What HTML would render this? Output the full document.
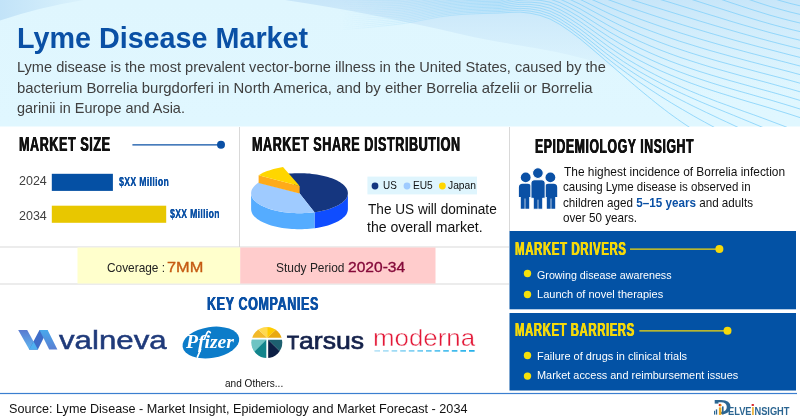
<!DOCTYPE html>
<html lang="en"><head><meta charset="utf-8"><title>Lyme Disease Market</title>
<style>
html,body{margin:0;padding:0}
body{width:800px;height:420px;position:relative;overflow:hidden;background:#fff;font-family:"Liberation Sans",sans-serif}
#bg,#fg{position:absolute;left:0;top:0}
.t{position:absolute;white-space:nowrap;line-height:1;transform-origin:0 0;margin:0;padding:0}
.t b{font-weight:700}
.h{text-shadow:0.45px 0 0 currentColor,-0.45px 0 0 currentColor;letter-spacing:0.9px}
.h2{text-shadow:0.2px 0 0 currentColor;letter-spacing:0.5px}
</style></head><body>

<svg id="bg" width="800" height="420" viewBox="0 0 800 420">
<defs>
<linearGradient id="hg" x1="0" y1="0" x2="0" y2="1"><stop offset="0" stop-color="#dff6fe"/><stop offset="1" stop-color="#e0f7ff"/></linearGradient>
<linearGradient id="bv" x1="0" y1="0" x2="0" y2="100" gradientUnits="userSpaceOnUse"><stop offset="0" stop-color="#c8e6f9" stop-opacity="1"/><stop offset="0.45" stop-color="#cfeafa" stop-opacity="0.6"/><stop offset="1" stop-color="#d8f0fc" stop-opacity="0"/></linearGradient>
<linearGradient id="bh" x1="225" y1="0" x2="430" y2="0" gradientUnits="userSpaceOnUse"><stop offset="0" stop-color="#fff" stop-opacity="0"/><stop offset="1" stop-color="#fff" stop-opacity="1"/></linearGradient>
<mask id="bm"><rect x="0" y="0" width="800" height="126" fill="url(#bh)"/></mask>
<linearGradient id="cg" x1="0" y1="0" x2="84" y2="0" gradientUnits="userSpaceOnUse"><stop offset="0" stop-color="#c2e3f8"/><stop offset="1" stop-color="#daf2fc"/></linearGradient>
<linearGradient id="wf" x1="340" y1="0" x2="590" y2="0" gradientUnits="userSpaceOnUse"><stop offset="0" stop-color="#fff" stop-opacity="0"/><stop offset="0.5" stop-color="#fff" stop-opacity="0.5"/><stop offset="1" stop-color="#fff" stop-opacity="1"/></linearGradient>
<mask id="wm"><rect x="0" y="0" width="800" height="127" fill="url(#wf)"/></mask>
<clipPath id="hc"><rect x="0" y="0" width="800" height="127"/></clipPath>
<linearGradient id="mg" x1="374" y1="0" x2="475" y2="0" gradientUnits="userSpaceOnUse"><stop offset="0" stop-color="#bfe6f8"/><stop offset="1" stop-color="#22b0ea"/></linearGradient>
<linearGradient id="v1" x1="0" y1="0" x2="0" y2="1"><stop offset="0" stop-color="#5a7bd0"/><stop offset="1" stop-color="#5fb6f0"/></linearGradient>
<linearGradient id="v3" x1="0" y1="0" x2="0" y2="1"><stop offset="0" stop-color="#48a8ec"/><stop offset="1" stop-color="#5a7fd2"/></linearGradient>
</defs>
<rect x="0" y="0" width="800" height="126.5" fill="url(#hg)"/>
<path d="M285,0 C340,8 400,20 460,34 S560,48 620,70 L700,126.5 L800,126.5 L800,0 Z" fill="url(#bv)"/>
<path d="M0,0 L84,0 Q40,7 0,20.5 Z" fill="url(#cg)"/>
<g clip-path="url(#hc)"><g mask="url(#wm)" fill="none" stroke="#82d1fa" stroke-width="0.85" stroke-opacity="0.95">
<path d="M330.0,31.0 L340.0,30.0 L350.0,29.1 L360.0,28.2 L370.0,27.3 L380.0,26.3 L390.0,25.2 L400.0,24.0 L410.0,22.5 L420.0,20.6 L430.0,18.7 L440.0,16.9 L450.0,15.5 L460.0,14.6 L470.0,14.0 L480.0,13.6 L490.0,13.3 L500.0,13.0 L510.0,12.4 L520.0,12.1 L530.0,13.2 L540.0,15.4 L550.0,19.0 L560.0,24.5 L570.0,31.3 L580.0,38.8 L590.0,47.2 L600.0,55.7 L604.3,59.4 L608.6,63.1 L612.9,66.8 L617.2,70.5 L621.5,74.2 L625.8,77.8 L630.1,81.5 L634.4,85.2 L638.7,88.8 L643.0,92.4 L647.3,95.9 L651.6,99.4 L655.9,102.9 L660.2,106.3 L664.5,109.6 L668.8,112.9 L673.1,116.0 L677.4,119.1 L681.7,122.1 L686.0,125.0 L746.0,164.6"/>
<path d="M330.0,28.8 L340.0,27.9 L350.0,27.1 L360.0,26.2 L370.0,25.4 L380.0,24.5 L390.0,23.4 L400.0,22.3 L410.0,20.8 L420.0,19.0 L430.0,17.1 L440.0,15.3 L450.0,14.0 L460.0,13.1 L470.0,12.5 L480.0,12.1 L490.0,11.8 L500.0,11.5 L510.0,10.7 L520.0,10.2 L530.0,11.1 L540.0,13.0 L550.0,16.4 L560.0,21.8 L570.0,28.4 L580.0,35.8 L590.0,43.9 L600.0,52.3 L605.5,56.8 L611.0,61.2 L616.5,65.5 L622.0,69.6 L627.5,73.7 L633.0,77.7 L638.5,81.6 L644.0,85.3 L649.5,89.0 L655.0,92.6 L660.5,96.2 L666.0,99.6 L671.5,103.0 L677.0,106.3 L682.5,109.5 L688.0,112.7 L693.5,115.9 L699.0,119.0 L704.5,122.0 L710.0,125.0 L770.0,157.5"/>
<path d="M330.0,26.6 L340.0,25.8 L350.0,25.0 L360.0,24.2 L370.0,23.5 L380.0,22.6 L390.0,21.7 L400.0,20.6 L410.0,19.1 L420.0,17.4 L430.0,15.5 L440.0,13.8 L450.0,12.5 L460.0,11.6 L470.0,11.0 L480.0,10.6 L490.0,10.3 L500.0,10.0 L510.0,9.0 L520.0,8.3 L530.0,8.9 L540.0,10.6 L550.0,13.8 L560.0,18.9 L570.0,25.4 L580.0,32.5 L590.0,40.5 L600.0,48.6 L606.6,53.8 L613.3,58.9 L620.0,63.7 L626.6,68.3 L633.2,72.7 L639.9,77.0 L646.5,81.0 L653.2,85.0 L659.9,88.8 L666.5,92.4 L673.1,96.0 L679.8,99.4 L686.5,102.8 L693.1,106.1 L699.8,109.3 L706.4,112.5 L713.0,115.6 L719.7,118.8 L726.4,121.9 L733.0,125.0 L793.0,153.3"/>
<path d="M330.0,24.4 L340.0,23.6 L350.0,22.9 L360.0,22.3 L370.0,21.5 L380.0,20.8 L390.0,19.9 L400.0,18.9 L410.0,17.5 L420.0,15.7 L430.0,13.9 L440.0,12.3 L450.0,11.0 L460.0,10.1 L470.0,9.5 L480.0,9.1 L490.0,8.8 L500.0,8.5 L510.0,7.2 L520.0,6.3 L530.0,6.7 L540.0,8.1 L550.0,11.1 L560.0,15.9 L570.0,22.2 L580.0,29.0 L590.0,36.7 L600.0,44.6 L607.9,50.6 L615.7,56.2 L623.5,61.6 L631.4,66.6 L639.2,71.4 L647.1,75.9 L655.0,80.2 L662.8,84.3 L670.6,88.2 L678.5,91.9 L686.4,95.5 L694.2,99.0 L702.0,102.4 L709.9,105.7 L717.8,108.9 L725.6,112.1 L733.5,115.3 L741.3,118.5 L749.1,121.7 L757.0,125.0 L817.0,150.2"/>
<path d="M330.0,22.2 L340.0,21.5 L350.0,20.9 L360.0,20.3 L370.0,19.6 L380.0,18.9 L390.0,18.1 L400.0,17.2 L410.0,15.8 L420.0,14.1 L430.0,12.3 L440.0,10.7 L450.0,9.5 L460.0,8.6 L470.0,8.0 L480.0,7.6 L490.0,7.3 L500.0,7.0 L510.0,5.5 L520.0,4.3 L530.0,4.4 L540.0,5.6 L550.0,8.2 L560.0,12.8 L570.0,18.8 L580.0,25.4 L590.0,32.8 L600.0,40.3 L609.0,47.0 L618.1,53.1 L627.1,59.0 L636.2,64.4 L645.2,69.5 L654.3,74.3 L663.4,78.9 L672.4,83.1 L681.5,87.2 L690.5,91.1 L699.5,94.8 L708.6,98.3 L717.6,101.8 L726.7,105.1 L735.8,108.4 L744.8,111.7 L753.9,114.9 L762.9,118.2 L772.0,121.6 L781.0,125.0 L841.0,148.0"/>
<path d="M330.0,20.0 L340.0,19.4 L350.0,18.8 L360.0,18.3 L370.0,17.7 L380.0,17.1 L390.0,16.4 L400.0,15.5 L410.0,14.2 L420.0,12.5 L430.0,10.8 L440.0,9.2 L450.0,8.0 L460.0,7.1 L470.0,6.5 L480.0,6.1 L490.0,5.8 L500.0,5.5 L510.0,3.7 L520.0,2.3 L530.0,2.1 L540.0,3.0 L550.0,5.2 L560.0,9.6 L570.0,15.2 L580.0,21.5 L590.0,28.6 L600.0,35.8 L610.0,42.8 L620.0,49.2 L630.0,55.1 L640.0,60.6 L650.0,65.7 L660.0,70.5 L670.0,74.8 L680.0,78.9 L690.0,82.8 L700.0,86.4 L710.0,89.8 L720.0,93.0 L730.0,96.1 L740.0,99.2 L750.0,102.2 L760.0,105.1 L770.0,108.1 L780.0,111.2 L790.0,114.3 L800.0,117.6 L860.0,137.7"/>
<path d="M330.0,17.8 L340.0,17.3 L350.0,16.8 L360.0,16.3 L370.0,15.8 L380.0,15.2 L390.0,14.6 L400.0,13.8 L410.0,12.5 L420.0,10.9 L430.0,9.2 L440.0,7.6 L450.0,6.5 L460.0,5.6 L470.0,5.0 L480.0,4.6 L490.0,4.3 L500.0,4.0 L510.0,1.9 L520.0,0.2 L530.0,-0.3 L540.0,0.3 L550.0,2.2 L560.0,6.2 L570.0,11.5 L580.0,17.5 L590.0,24.2 L600.0,31.0 L610.0,37.6 L620.0,43.7 L630.0,49.4 L640.0,54.6 L650.0,59.4 L660.0,63.9 L670.0,68.1 L680.0,72.0 L690.0,75.7 L700.0,79.1 L710.0,82.4 L720.0,85.5 L730.0,88.5 L740.0,91.4 L750.0,94.2 L760.0,97.1 L770.0,99.9 L780.0,102.9 L790.0,105.9 L800.0,109.0 L860.0,128.2"/>
<path d="M330.0,15.6 L340.0,15.1 L350.0,14.7 L360.0,14.3 L370.0,13.9 L380.0,13.4 L390.0,12.8 L400.0,12.1 L410.0,10.8 L420.0,9.3 L430.0,7.6 L440.0,6.1 L450.0,5.0 L460.0,4.1 L470.0,3.5 L480.0,3.1 L490.0,2.8 L500.0,2.5 L510.0,0.2 L520.0,-1.9 L530.0,-2.7 L540.0,-2.5 L550.0,-1.0 L560.0,2.7 L570.0,7.7 L580.0,13.2 L590.0,19.6 L600.0,26.0 L610.0,32.2 L620.0,37.9 L630.0,43.2 L640.0,48.2 L650.0,52.8 L660.0,57.1 L670.0,61.1 L680.0,64.8 L690.0,68.3 L700.0,71.6 L710.0,74.7 L720.0,77.7 L730.0,80.6 L740.0,83.4 L750.0,86.2 L760.0,89.0 L770.0,91.7 L780.0,94.5 L790.0,97.4 L800.0,100.4 L860.0,118.7"/>
<path d="M330.0,13.4 L340.0,13.0 L350.0,12.7 L360.0,12.3 L370.0,12.0 L380.0,11.6 L390.0,11.0 L400.0,10.4 L410.0,9.2 L420.0,7.6 L430.0,6.0 L440.0,4.6 L450.0,3.5 L460.0,2.6 L470.0,2.0 L480.0,1.6 L490.0,1.3 L500.0,1.0 L510.0,-1.6 L520.0,-4.0 L530.0,-5.2 L540.0,-5.4 L550.0,-4.2 L560.0,-0.9 L570.0,3.7 L580.0,8.8 L590.0,14.7 L600.0,20.6 L610.0,26.4 L620.0,31.8 L630.0,36.8 L640.0,41.4 L650.0,45.8 L660.0,49.9 L670.0,53.7 L680.0,57.3 L690.0,60.6 L700.0,63.8 L710.0,66.9 L720.0,69.8 L730.0,72.6 L740.0,75.4 L750.0,78.1 L760.0,80.7 L770.0,83.4 L780.0,86.2 L790.0,88.9 L800.0,91.8 L860.0,109.3"/>
<path d="M330.0,11.2 L340.0,10.9 L350.0,10.6 L360.0,10.3 L370.0,10.1 L380.0,9.7 L390.0,9.3 L400.0,8.7 L410.0,7.5 L420.0,6.0 L430.0,4.4 L440.0,3.0 L450.0,2.0 L460.0,1.1 L470.0,0.5 L480.0,0.1 L490.0,-0.2 L500.0,-0.5 L510.0,-3.5 L520.0,-6.2 L530.0,-7.7 L540.0,-8.3 L550.0,-7.5 L560.0,-4.7 L570.0,-0.5 L580.0,4.2 L590.0,9.6 L600.0,15.0 L610.0,20.3 L620.0,25.3 L630.0,30.0 L640.0,34.3 L650.0,38.4 L660.0,42.3 L670.0,46.0 L680.0,49.4 L690.0,52.7 L700.0,55.8 L710.0,58.8 L720.0,61.7 L730.0,64.4 L740.0,67.1 L750.0,69.8 L760.0,72.5 L770.0,75.1 L780.0,77.7 L790.0,80.4 L800.0,83.2 L860.0,100.0"/>
<path d="M330.0,9.0 L340.0,8.8 L350.0,8.5 L360.0,8.4 L370.0,8.1 L380.0,7.9 L390.0,7.5 L400.0,7.0 L410.0,5.9 L420.0,4.4 L430.0,2.9 L440.0,1.5 L450.0,0.5 L460.0,-0.4 L470.0,-1.0 L480.0,-1.4 L490.0,-1.7 L500.0,-2.0 L510.0,-5.3 L520.0,-8.4 L530.0,-10.3 L540.0,-11.3 L550.0,-11.0 L560.0,-8.5 L570.0,-4.9 L580.0,-0.7 L590.0,4.2 L600.0,9.2 L610.0,14.0 L620.0,18.5 L630.0,22.8 L640.0,26.9 L650.0,30.7 L660.0,34.4 L670.0,37.9 L680.0,41.3 L690.0,44.4 L700.0,47.5 L710.0,50.5 L720.0,53.3 L730.0,56.1 L740.0,58.8 L750.0,61.5 L760.0,64.1 L770.0,66.7 L780.0,69.3 L790.0,71.9 L800.0,74.6 L860.0,90.7"/>
<path d="M330.0,6.8 L340.0,6.6 L350.0,6.5 L360.0,6.4 L370.0,6.2 L380.0,6.0 L390.0,5.7 L400.0,5.3 L410.0,4.2 L420.0,2.8 L430.0,1.3 L440.0,-0.1 L450.0,-1.0 L460.0,-1.9 L470.0,-2.5 L480.0,-2.9 L490.0,-3.2 L500.0,-3.5 L510.0,-7.1 L520.0,-10.6 L530.0,-12.9 L540.0,-14.4 L550.0,-14.5 L560.0,-12.6 L570.0,-9.4 L580.0,-5.7 L590.0,-1.3 L600.0,3.0 L610.0,7.3 L620.0,11.4 L630.0,15.3 L640.0,19.1 L650.0,22.7 L660.0,26.2 L670.0,29.5 L680.0,32.8 L690.0,35.9 L700.0,39.0 L710.0,41.9 L720.0,44.8 L730.0,47.6 L740.0,50.3 L750.0,53.0 L760.0,55.6 L770.0,58.2 L780.0,60.8 L790.0,63.4 L800.0,66.0 L860.0,81.5"/>
<path d="M330.0,4.6 L340.0,4.5 L350.0,4.4 L360.0,4.4 L370.0,4.3 L380.0,4.2 L390.0,4.0 L400.0,3.6 L410.0,2.5 L420.0,1.2 L430.0,-0.3 L440.0,-1.6 L450.0,-2.5 L460.0,-3.4 L470.0,-4.0 L480.0,-4.4 L490.0,-4.7 L500.0,-5.0 L510.0,-9.0 L520.0,-12.9 L530.0,-15.6 L540.0,-17.5 L550.0,-18.2 L560.0,-16.7 L570.0,-14.0 L580.0,-10.9 L590.0,-7.1 L600.0,-3.4 L610.0,0.3 L620.0,3.9 L630.0,7.5 L640.0,10.9 L650.0,14.3 L660.0,17.6 L670.0,20.8 L680.0,24.0 L690.0,27.1 L700.0,30.1 L710.0,33.1 L720.0,36.0 L730.0,38.9 L740.0,41.7 L750.0,44.4 L760.0,47.1 L770.0,49.7 L780.0,52.3 L790.0,54.9 L800.0,57.4 L860.0,72.4"/>
<path d="M330.0,2.4 L340.0,2.4 L350.0,2.4 L360.0,2.4 L370.0,2.4 L380.0,2.3 L390.0,2.2 L400.0,1.9 L410.0,0.9 L420.0,-0.5 L430.0,-1.9 L440.0,-3.1 L450.0,-4.0 L460.0,-4.9 L470.0,-5.5 L480.0,-5.9 L490.0,-6.2 L500.0,-6.5 L510.0,-10.9 L520.0,-15.1 L530.0,-18.4 L540.0,-20.7 L550.0,-22.0 L560.0,-21.0 L570.0,-18.8 L580.0,-16.3 L590.0,-13.2 L600.0,-10.1 L610.0,-7.0 L620.0,-3.8 L630.0,-0.7 L640.0,2.4 L650.0,5.6 L660.0,8.7 L670.0,11.8 L680.0,14.9 L690.0,18.0 L700.0,21.1 L710.0,24.1 L720.0,27.1 L730.0,30.0 L740.0,32.9 L750.0,35.7 L760.0,38.5 L770.0,41.2 L780.0,43.8 L790.0,46.3 L800.0,48.8 L860.0,63.3"/>
<path d="M330.0,0.2 L340.0,0.2 L350.0,0.3 L360.0,0.4 L370.0,0.5 L380.0,0.5 L390.0,0.4 L400.0,0.2 L410.0,-0.8 L420.0,-2.1 L430.0,-3.5 L440.0,-4.7 L450.0,-5.5 L460.0,-6.4 L470.0,-7.0 L480.0,-7.4 L490.0,-7.7 L500.0,-8.0 L510.0,-12.7 L520.0,-17.4 L530.0,-21.1 L540.0,-24.0 L550.0,-25.8 L560.0,-25.4 L570.0,-23.8 L580.0,-21.9 L590.0,-19.4 L600.0,-17.0 L610.0,-14.6 L620.0,-12.0 L630.0,-9.2 L640.0,-6.4 L650.0,-3.5 L660.0,-0.6 L670.0,2.4 L680.0,5.5 L690.0,8.6 L700.0,11.7 L710.0,14.8 L720.0,17.9 L730.0,21.0 L740.0,24.0 L750.0,26.9 L760.0,29.8 L770.0,32.6 L780.0,35.2 L790.0,37.8 L800.0,40.2 L860.0,54.3"/>
<path d="M330.0,-2.0 L340.0,-1.9 L350.0,-1.7 L360.0,-1.6 L370.0,-1.4 L380.0,-1.3 L390.0,-1.4 L400.0,-1.5 L410.0,-2.4 L420.0,-3.7 L430.0,-5.0 L440.0,-6.2 L450.0,-7.0 L460.0,-7.9 L470.0,-8.5 L480.0,-8.9 L490.0,-9.2 L500.0,-9.5 L510.0,-14.6 L520.0,-19.8 L530.0,-24.0 L540.0,-27.4 L550.0,-29.8 L560.0,-29.9 L570.0,-29.0 L580.0,-27.7 L590.0,-25.9 L600.0,-24.2 L610.0,-22.4 L620.0,-20.4 L630.0,-18.1 L640.0,-15.6 L650.0,-13.0 L660.0,-10.2 L670.0,-7.2 L680.0,-4.2 L690.0,-1.1 L700.0,2.1 L710.0,5.3 L720.0,8.5 L730.0,11.7 L740.0,14.9 L750.0,18.0 L760.0,21.0 L770.0,23.9 L780.0,26.6 L790.0,29.2 L800.0,31.6 L860.0,45.3"/>
<path d="M330.0,-4.2 L340.0,-4.0 L350.0,-3.8 L360.0,-3.6 L370.0,-3.3 L380.0,-3.2 L390.0,-3.1 L400.0,-3.2 L410.0,-4.1 L420.0,-5.3 L430.0,-6.6 L440.0,-7.8 L450.0,-8.5 L460.0,-9.4 L470.0,-10.0 L480.0,-10.4 L490.0,-10.7 L500.0,-11.0 L510.0,-16.5 L520.0,-22.2 L530.0,-26.9 L540.0,-30.8 L550.0,-33.8 L560.0,-34.5 L570.0,-34.3 L580.0,-33.7 L590.0,-32.6 L600.0,-31.7 L610.0,-30.6 L620.0,-29.2 L630.0,-27.3 L640.0,-25.2 L650.0,-22.8 L660.0,-20.1 L670.0,-17.3 L680.0,-14.2 L690.0,-11.0 L700.0,-7.8 L710.0,-4.4 L720.0,-1.0 L730.0,2.4 L740.0,5.7 L750.0,9.0 L760.0,12.1 L770.0,15.2 L780.0,18.0 L790.0,20.6 L800.0,23.0 L860.0,36.5"/>
<path d="M330.0,-6.4 L340.0,-6.1 L350.0,-5.9 L360.0,-5.5 L370.0,-5.3 L380.0,-5.0 L390.0,-4.9 L400.0,-4.9 L410.0,-5.8 L420.0,-6.9 L430.0,-8.2 L440.0,-9.3 L450.0,-10.0 L460.0,-10.9 L470.0,-11.5 L480.0,-11.9 L490.0,-12.2 L500.0,-12.5 L510.0,-18.5 L520.0,-24.6 L530.0,-29.8 L540.0,-34.4 L550.0,-38.0 L560.0,-39.3 L570.0,-39.7 L580.0,-39.9 L590.0,-39.6 L600.0,-39.5 L610.0,-39.1 L620.0,-38.3 L630.0,-36.9 L640.0,-35.1 L650.0,-32.9 L660.0,-30.4 L670.0,-27.6 L680.0,-24.5 L690.0,-21.3 L700.0,-17.9 L710.0,-14.4 L720.0,-10.8 L730.0,-7.2 L740.0,-3.6 L750.0,-0.2 L760.0,3.2 L770.0,6.4 L780.0,9.3 L790.0,12.0 L800.0,14.4 L860.0,27.7"/>
<path d="M330.0,-8.6 L340.0,-8.3 L350.0,-7.9 L360.0,-7.5 L370.0,-7.2 L380.0,-6.9 L390.0,-6.7 L400.0,-6.6 L410.0,-7.4 L420.0,-8.6 L430.0,-9.8 L440.0,-10.8 L450.0,-11.5 L460.0,-12.4 L470.0,-13.0 L480.0,-13.4 L490.0,-13.7 L500.0,-14.0 L510.0,-20.4 L520.0,-27.0 L530.0,-32.8 L540.0,-37.9 L550.0,-42.2 L560.0,-44.2 L570.0,-45.4 L580.0,-46.3 L590.0,-46.8 L600.0,-47.5 L610.0,-48.0 L620.0,-47.7 L630.0,-46.8 L640.0,-45.4 L650.0,-43.4 L660.0,-41.0 L670.0,-38.3 L680.0,-35.2 L690.0,-31.8 L700.0,-28.3 L710.0,-24.6 L720.0,-20.8 L730.0,-16.9 L740.0,-13.1 L750.0,-9.4 L760.0,-5.8 L770.0,-2.5 L780.0,0.6 L790.0,3.4 L800.0,5.8 L860.0,18.9"/>
</g></g>
<g stroke="#d9d9d9" stroke-width="1">
<line x1="239.5" y1="127" x2="239.5" y2="247"/>
<line x1="509.5" y1="127" x2="509.5" y2="231"/>
<line x1="0" y1="247" x2="509" y2="247"/>
<line x1="0" y1="284" x2="509" y2="284"/>
</g>
<line x1="132.4" y1="144.8" x2="220" y2="144.8" stroke="#0a50a5" stroke-width="1.2"/><circle cx="221" cy="144.8" r="4" fill="#0a50a5"/>
<rect x="51.8" y="173.8" width="61.1" height="17.1" fill="#0550a4"/>
<rect x="51.8" y="205.7" width="114.4" height="17.1" fill="#e8c700"/>
<polygon points="347.9,193.2 347.8,194.2 347.6,195.3 347.3,196.3 346.8,197.4 346.3,198.4 345.5,199.4 344.7,200.4 343.7,201.3 342.6,202.3 341.4,203.2 340.1,204.1 338.7,205.0 337.1,205.8 335.5,206.6 333.7,207.3 331.9,208.1 330.0,208.7 327.9,209.4 325.9,210.0 323.7,210.5 321.5,211.0 319.2,211.5 316.8,211.9 314.5,212.2 314.5,228.2 316.8,227.9 319.2,227.5 321.5,227.0 323.7,226.5 325.9,226.0 327.9,225.4 330.0,224.7 331.9,224.1 333.7,223.3 335.5,222.6 337.1,221.8 338.7,221.0 340.1,220.1 341.4,219.2 342.6,218.3 343.7,217.3 344.7,216.4 345.5,215.4 346.3,214.4 346.8,213.4 347.3,212.3 347.6,211.3 347.8,210.2 347.9,209.2" fill="#0f4dff"/>
<polygon points="314.5,212.2 312.0,212.5 309.6,212.8 307.1,213.0 304.6,213.1 302.0,213.2 299.5,213.2 297.0,213.2 294.4,213.1 291.9,213.0 289.4,212.8 287.0,212.5 284.5,212.2 282.2,211.9 279.8,211.5 277.5,211.0 275.3,210.5 273.1,210.0 271.1,209.4 269.0,208.7 267.1,208.1 265.3,207.3 263.5,206.6 261.9,205.8 260.3,205.0 258.9,204.1 257.6,203.2 256.4,202.3 255.3,201.3 254.3,200.4 253.5,199.4 252.7,198.4 252.2,197.4 251.7,196.3 251.4,195.3 251.2,194.2 251.1,193.2 251.1,209.2 251.2,210.2 251.4,211.3 251.7,212.3 252.2,213.4 252.7,214.4 253.5,215.4 254.3,216.4 255.3,217.3 256.4,218.3 257.6,219.2 258.9,220.1 260.3,221.0 261.9,221.8 263.5,222.6 265.3,223.3 267.1,224.1 269.0,224.7 271.1,225.4 273.1,226.0 275.3,226.5 277.5,227.0 279.8,227.5 282.2,227.9 284.5,228.2 287.0,228.5 289.4,228.8 291.9,229.0 294.4,229.1 297.0,229.2 299.5,229.2 302.0,229.2 304.6,229.1 307.1,229.0 309.6,228.8 312.0,228.5 314.5,228.2" fill="#55acff"/>
<polygon points="299.5,193.2 287.0,173.9 289.4,173.6 291.9,173.4 294.4,173.3 297.0,173.2 299.5,173.2 302.0,173.2 304.6,173.3 307.1,173.4 309.6,173.6 312.0,173.9 314.5,174.2 316.8,174.5 319.2,174.9 321.5,175.4 323.7,175.9 325.9,176.4 327.9,177.0 330.0,177.7 331.9,178.3 333.7,179.1 335.5,179.8 337.1,180.6 338.7,181.4 340.1,182.3 341.4,183.2 342.6,184.1 343.7,185.1 344.7,186.0 345.5,187.0 346.3,188.0 346.8,189.0 347.3,190.1 347.6,191.1 347.8,192.2 347.9,193.2 347.8,194.2 347.6,195.3 347.3,196.3 346.8,197.4 346.3,198.4 345.5,199.4 344.7,200.4 343.7,201.3 342.6,202.3 341.4,203.2 340.1,204.1 338.7,205.0 337.1,205.8 335.5,206.6 333.7,207.3 331.9,208.1 330.0,208.7 327.9,209.4 325.9,210.0 323.7,210.5 321.5,211.0 319.2,211.5 316.8,211.9 314.5,212.2" fill="#15367f"/>
<polygon points="299.5,193.2 314.5,212.2 312.0,212.5 309.5,212.8 307.0,213.0 304.4,213.1 301.8,213.2 299.3,213.2 296.7,213.2 294.1,213.1 291.6,212.9 289.1,212.7 286.6,212.5 284.1,212.2 281.7,211.8 279.3,211.4 277.0,210.9 274.8,210.4 272.6,209.8 270.5,209.2 268.5,208.6 266.6,207.9 264.7,207.1 263.0,206.3 261.4,205.5 259.8,204.7 258.4,203.8 257.1,202.9 255.9,201.9 254.9,200.9 253.9,200.0 253.1,198.9 252.5,197.9 251.9,196.9 251.5,195.8 251.3,194.8 251.1,193.7 251.1,192.7 251.3,191.6 251.5,190.5 251.9,189.5 252.5,188.4 253.2,187.4 254.0,186.4 254.9,185.4 256.0,184.5 257.2,183.5 258.5,182.6" fill="#9fcbff"/>
<polygon points="299.6,185.9 258.6,175.3 258.6,182.9 299.6,193.5" fill="#ffab19"/>
<polygon points="299.6,185.9 258.6,175.3 260.0,174.4 261.6,173.5 263.4,172.6 265.2,171.8 267.1,171.1 269.1,170.4 271.3,169.7 273.5,169.1 275.8,168.5 278.1,168.0 280.6,167.5 283.0,167.1" fill="#ffd600"/>
<rect x="367.4" y="176.6" width="109.6" height="17.8" fill="#dff5fd"/>
<circle cx="375" cy="186" r="3.4" fill="#15367f"/><circle cx="407" cy="186" r="3.4" fill="#9fcbff"/><circle cx="442.4" cy="186" r="3.4" fill="#ffd600"/>
<circle cx="525.7" cy="177.4" r="4.9" fill="#0a50a5"/><path d="M518.9,187.4 a3.6,3.6 0 0 1 3.6,-3.6 h5.1 a3.6,3.6 0 0 1 3.6,3.6 V197.0 H529.2 V208.8 H520.8 V197.0 H518.9 Z" fill="#0a50a5"/><line x1="525.0" y1="198.5" x2="525.0" y2="209.3" stroke="#fff" stroke-width="0.7"/><circle cx="550.4" cy="177.4" r="4.9" fill="#0a50a5"/><path d="M544.9,187.4 a3.6,3.6 0 0 1 3.6,-3.6 h5.1 a3.6,3.6 0 0 1 3.6,3.6 V197.0 H555.2 V208.8 H546.8 V197.0 H544.9 Z" fill="#0a50a5"/><line x1="551.0" y1="198.5" x2="551.0" y2="209.3" stroke="#fff" stroke-width="0.7"/><circle cx="537.9" cy="173.1" r="5.4" fill="#0a50a5" stroke="#fff" stroke-width="1.1" stroke-linejoin="round"/><path d="M530.9,183.3 a3.6,3.6 0 0 1 3.6,-3.6 h7.1 a3.6,3.6 0 0 1 3.6,3.6 V198.2 H542.8 V209.2 H533.2 V198.2 H530.9 Z" fill="#0a50a5" stroke="#fff" stroke-width="1.1" stroke-linejoin="round"/><line x1="538.0" y1="199.7" x2="538.0" y2="209.7" stroke="#fff" stroke-width="0.7"/>
<rect x="77.5" y="247.5" width="162.7" height="36" fill="#ffffcc"/>
<rect x="240.2" y="247.5" width="195.3" height="36" fill="#ffcccc"/>
<rect x="509.5" y="231" width="286.5" height="78.3" fill="#0352a5"/>
<rect x="509.5" y="313" width="286.5" height="77.5" fill="#0352a5"/>
<line x1="630" y1="249.2" x2="719" y2="249.2" stroke="#f5d90a" stroke-width="1.2"/><circle cx="719.4" cy="249" r="4" fill="#f5d90a"/>
<line x1="639.4" y1="330.8" x2="727" y2="330.8" stroke="#f5d90a" stroke-width="1.2"/><circle cx="727.5" cy="330.8" r="4" fill="#f5d90a"/>
<circle cx="527.5" cy="273.5" r="3.7" fill="#f5e10a"/>
<circle cx="527.5" cy="294.5" r="3.7" fill="#f5e10a"/>
<circle cx="527.5" cy="355.5" r="3.7" fill="#f5e10a"/>
<circle cx="527.5" cy="376.1" r="3.7" fill="#f5e10a"/>
<rect x="0" y="392.9" width="797" height="1.2" fill="#3b7fd0"/>
<polygon points="18.2,330.1 27.2,330.1 37.9,349.5 29.2,349.5" fill="url(#v1)"/>
<polygon points="29.2,349.5 37.9,349.5 47.6,330.1 39.5,330.1" fill="#3f6dc8"/>
<polygon points="39.5,330.1 47.6,330.1 57.4,349.5 49.2,349.5" fill="url(#v3)"/>
<polygon points="29.2,349.5 37.9,349.5 33.6,341.4" fill="#4fb0f0"/>
<ellipse cx="210.9" cy="342.5" rx="28.6" ry="15.5" transform="rotate(-9 210.9 342.5)" fill="#0c7cc9"/>
<clipPath id="tc"><circle cx="266.9" cy="342.5" r="15.4"/></clipPath><g clip-path="url(#tc)"><polygon points="267.2,337.8 227.2,337.8 237.9,310.5" fill="#f2b92a"/><polygon points="267.2,337.8 237.9,310.5 267.2,297.8" fill="#ffd94f"/><polygon points="267.2,337.8 267.2,297.8 296.5,310.5" fill="#ffcc00"/><polygon points="267.2,337.8 296.5,310.5 307.2,337.8" fill="#e9a90f"/><polygon points="266.3,339.7 236.3,339.7 236.3,369.7 236.3,369.7" fill="#6ec4c3"/><polygon points="266.3,339.7 236.3,339.7 236.3,369.7" fill="#6ec4c3"/><polygon points="266.3,339.7 236.3,369.7 266.3,369.7" fill="#12858c"/><polygon points="268.2,339.7 298.2,339.7 298.2,369.7" fill="#1d6070"/><polygon points="268.2,339.7 298.2,369.7 268.2,369.7" fill="#0c1f45"/></g>
<line x1="374.4" y1="350.9" x2="474.6" y2="350.9" stroke="url(#mg)" stroke-width="1.8" stroke-dasharray="5.6 3.0"/>
</svg>
<div class="t" id="title" style="left:16.54px;top:23.21px;font-size:29.40px;color:#0a50a5;font-weight:700;transform:scaleX(0.9771);">Lyme Disease Market</div>
<div class="t" id="sub1" style="left:17.25px;top:60.06px;font-size:14.10px;color:#404040;transform:scaleX(1.0347);">Lyme disease is the most prevalent vector-borne illness in the United States, caused by the</div>
<div class="t" id="sub2" style="left:17.46px;top:80.56px;font-size:14.10px;color:#404040;transform:scaleX(1.0555);">bacterium Borrelia burgdorferi in North America, and by either Borrelia afzelii or Borrelia</div>
<div class="t" id="sub3" style="left:17.03px;top:101.06px;font-size:14.10px;color:#404040;transform:scaleX(1.0255);">garinii in Europe and Asia.</div>
<div class="t h" id="h_size" style="left:18.97px;top:134.81px;font-size:19.60px;color:#111;font-weight:700;transform:scaleX(0.6421);">MARKET SIZE</div>
<div class="t" id="y2024" style="left:19.30px;top:175.13px;font-size:12.60px;color:#404040;transform:scaleX(0.9925);">2024</div>
<div class="t" id="y2034" style="left:19.30px;top:210.13px;font-size:12.60px;color:#404040;transform:scaleX(0.9925);">2034</div>
<div class="t h2" id="xx1" style="left:119.34px;top:175.53px;font-size:12.60px;color:#0a50a5;font-weight:700;transform:scaleX(0.6896);">$XX Million</div>
<div class="t h2" id="xx2" style="left:169.62px;top:208.03px;font-size:12.60px;color:#0a50a5;font-weight:700;transform:scaleX(0.6849);">$XX Million</div>
<div class="t h" id="h_share" style="left:252.21px;top:134.71px;font-size:19.60px;color:#111;font-weight:700;transform:scaleX(0.6418);">MARKET SHARE DISTRIBUTION</div>
<div class="t" id="lg_us" style="left:382.91px;top:179.89px;font-size:11.00px;color:#111;transform:scaleX(0.9012);">US</div>
<div class="t" id="lg_eu" style="left:412.62px;top:179.89px;font-size:11.00px;color:#111;transform:scaleX(0.9241);">EU5</div>
<div class="t" id="lg_jp" style="left:448.13px;top:179.89px;font-size:11.00px;color:#111;transform:scaleX(0.9349);">Japan</div>
<div class="t" id="dom1" style="left:367.76px;top:202.39px;font-size:14.90px;color:#111;transform:scaleX(0.9150);">The US will dominate</div>
<div class="t" id="dom2" style="left:367.46px;top:220.39px;font-size:14.90px;color:#111;transform:scaleX(0.9442);">the overall market.</div>
<div class="t h" id="h_epi" style="left:535.30px;top:136.91px;font-size:19.60px;color:#111;font-weight:700;transform:scaleX(0.6264);">EPIDEMIOLOGY INSIGHT</div>
<div class="t" id="epi1" style="left:563.65px;top:165.76px;font-size:12.10px;color:#111;transform:scaleX(0.9844);">The highest incidence of Borrelia infection</div>
<div class="t" id="epi2" style="left:563.23px;top:180.76px;font-size:12.10px;color:#111;transform:scaleX(0.9510);">causing Lyme disease is observed in</div>
<div class="t" id="epi3" style="left:563.18px;top:196.76px;font-size:12.10px;color:#111;transform:scaleX(0.9642);">children aged <b style="color:#0a50a5">5–15 years</b> and adults</div>
<div class="t" id="epi4" style="left:563.17px;top:211.76px;font-size:12.10px;color:#111;transform:scaleX(0.9661);">over 50 years.</div>
<div class="t" id="cov" style="left:106.82px;top:261.73px;font-size:12.60px;color:#222;transform:scaleX(0.9419);">Coverage :</div>
<div class="t" id="cov2" style="left:167.25px;top:259.36px;font-size:15.40px;color:#c55a11;transform:scaleX(1.0612);-webkit-text-stroke:0.35px #c55a11;">7MM</div>
<div class="t" id="stud" style="left:276.12px;top:261.53px;font-size:12.60px;color:#222;transform:scaleX(0.9493);">Study Period</div>
<div class="t" id="stud2" style="left:348.01px;top:259.16px;font-size:15.40px;color:#850a3a;transform:scaleX(1.0114);-webkit-text-stroke:0.35px #850a3a;">2020-34</div>
<div class="t h" id="h_key" style="left:206.60px;top:295.09px;font-size:18.80px;color:#0a50a5;font-weight:700;transform:scaleX(0.6681);">KEY COMPANIES</div>
<div class="t" id="others" style="left:224.53px;top:377.60px;font-size:11.10px;color:#111;transform:scaleX(0.9072);">and Others...</div>
<div class="t" id="source" style="left:8.58px;top:402.00px;font-size:13.00px;color:#111;transform:scaleX(0.9711);">Source: Lyme Disease - Market Insight, Epidemiology and Market Forecast - 2034</div>
<div class="t h" id="h_drv" style="left:515.35px;top:240.04px;font-size:18.50px;color:#f5d90a;font-weight:700;transform:scaleX(0.6227);">MARKET DRIVERS</div>
<div class="t" id="drv1" style="left:537.17px;top:269.74px;font-size:10.70px;color:#fff;transform:scaleX(1.0023);">Growing disease awareness</div>
<div class="t" id="drv2" style="left:537.38px;top:288.54px;font-size:10.70px;color:#fff;transform:scaleX(1.0307);">Launch of novel therapies</div>
<div class="t h" id="h_bar" style="left:514.59px;top:321.34px;font-size:18.50px;color:#f5d90a;font-weight:700;transform:scaleX(0.6162);">MARKET BARRIERS</div>
<div class="t" id="bar1" style="left:537.31px;top:350.54px;font-size:10.70px;color:#fff;transform:scaleX(1.0271);">Failure of drugs in clinical trials</div>
<div class="t" id="bar2" style="left:537.39px;top:369.94px;font-size:10.70px;color:#fff;transform:scaleX(1.0201);">Market access and reimbursement issues</div>
<div class="t" id="valneva" style="left:58.84px;top:327.12px;font-size:26.20px;color:#1f3a7a;transform:scaleX(1.1928);-webkit-text-stroke:0.5px #1f3a7a;">valneva</div>
<div class="t" id="pfizer" style="left:185.66px;top:331.67px;font-size:19.50px;color:#fff;font-weight:700;font-family:'Liberation Serif', serif;font-style:italic;transform:scaleX(1.0051);">Pfizer</div>
<div class="t" id="tarsus" style="left:286.73px;top:329.48px;font-size:24.00px;color:#14214a;transform:scaleX(1.1079);-webkit-text-stroke:0.7px #14214a;"><span style="font-size:74%;-webkit-text-stroke:0.9px #14214a">T</span>arsus</div>
<div class="t" id="moderna" style="left:372.68px;top:326.69px;font-size:23.40px;color:#e31837;transform:scaleX(1.1064);-webkit-text-stroke:0.45px #fff;">moderna</div>
<div class="t" id="delveD" style="left:712.61px;top:396.91px;font-size:20.90px;color:#2b6591;font-weight:700;transform:scaleX(1.2335);">D</div>
<div class="t" id="delve" style="left:728.20px;top:405.88px;font-size:10.30px;color:#2b6591;font-weight:700;transform:scaleX(0.9008);">ELVE<span style="color:#e9a820;position:relative;font-size:112%">I<i style="position:absolute;left:50%;top:-0.6px;width:2.6px;height:2.2px;margin-left:-1.5px;border-radius:50%;background:#d8232a"></i></span>NSIGHT</div>
<svg id="fg" width="800" height="420" viewBox="0 0 800 420"><rect x="713.2" y="403.6" width="7.6" height="11.6" fill="#fff"/><rect x="714.0" y="410.8" width="1.1" height="3.8" fill="#2b6591"/><rect x="715.8" y="409.4" width="1.4" height="5.2" fill="#2b6591"/><rect x="718.9" y="407.4" width="2.5" height="7.5" fill="#e9a820"/><circle cx="720.2" cy="405.2" r="1.35" fill="#e9a820"/><circle cx="719.7" cy="405.0" r="1.0" fill="#d8232a"/><rect x="722.0" y="406.4" width="1.6" height="8.2" fill="#2b6591"/><path d="M200.6,349.5 L197.4,357.2 M204.6,338.5 L207.2,332.6 Q208.6,330.2 210.3,332.6" fill="none" stroke="#fff" stroke-width="1.7" stroke-linecap="round"/></svg>
</body></html>
